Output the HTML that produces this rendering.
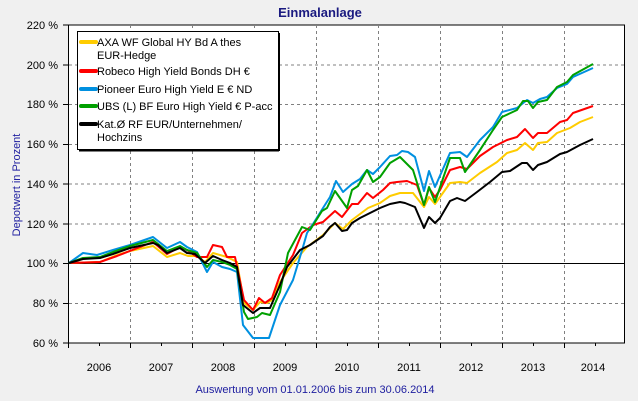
<!DOCTYPE html>
<html><head><meta charset="utf-8"><style>
body{margin:0;background:#f0f0f0;}
svg{display:block;font-family:"Liberation Sans",sans-serif;}
</style></head><body>
<svg width="638" height="401" viewBox="0 0 638 401" xmlns="http://www.w3.org/2000/svg">
<rect width="638" height="401" fill="#f0f0f0"/>
<text x="320" y="17" text-anchor="middle" font-size="13" font-weight="bold" fill="#1a1a80">Einmalanlage</text>
<rect x="68.5" y="25" width="556" height="318" fill="#fff" stroke="#000" stroke-width="1"/>
<g stroke="#808080" stroke-dasharray="3,3" stroke-width="1">
<line x1="69" x2="624" y1="65" y2="65"/><line x1="69" x2="624" y1="104.5" y2="104.5"/>
<line x1="69" x2="624" y1="144.5" y2="144.5"/><line x1="69" x2="624" y1="184" y2="184"/>
<line x1="69" x2="624" y1="224" y2="224"/><line x1="69" x2="624" y1="303.5" y2="303.5"/>
<line x1="130.5" x2="130.5" y1="25" y2="343"/><line x1="192.5" x2="192.5" y1="25" y2="343"/>
<line x1="254.5" x2="254.5" y1="25" y2="343"/><line x1="316.5" x2="316.5" y1="25" y2="343"/>
<line x1="378.5" x2="378.5" y1="25" y2="343"/><line x1="440.5" x2="440.5" y1="25" y2="343"/>
<line x1="502.5" x2="502.5" y1="25" y2="343"/><line x1="564.5" x2="564.5" y1="25" y2="343"/>
</g>
<line x1="69" x2="624" y1="263.5" y2="263.5" stroke="#000"/>
<g stroke="#000">
<line x1="63" x2="68" y1="25" y2="25"/><line x1="63" x2="68" y1="65" y2="65"/><line x1="63" x2="68" y1="104.5" y2="104.5"/><line x1="63" x2="68" y1="144.5" y2="144.5"/><line x1="63" x2="68" y1="184" y2="184"/><line x1="63" x2="68" y1="224" y2="224"/><line x1="63" x2="68" y1="263.5" y2="263.5"/><line x1="63" x2="68" y1="303.5" y2="303.5"/><line x1="63" x2="68" y1="343" y2="343"/>
<path d="M68.5 343v5M99.5 343v3M130.5 343v5M161.5 343v3M192.5 343v5M223.5 343v3M254.5 343v5M285.5 343v3M316.5 343v5M347.5 343v3M378.5 343v5M409.5 343v3M440.5 343v5M471.5 343v3M502.5 343v5M533.5 343v3M564.5 343v5M595.5 343v3"/>
</g>
<g font-size="11" fill="#000" text-anchor="end">
<text x="58" y="29">220 %</text><text x="58" y="69">200 %</text><text x="58" y="108">180 %</text><text x="58" y="148">160 %</text><text x="58" y="188">140 %</text><text x="58" y="228">120 %</text><text x="58" y="267">100 %</text><text x="58" y="307">80 %</text><text x="58" y="347">60 %</text>
</g>
<g font-size="11" fill="#000" text-anchor="middle">
<text x="99" y="371">2006</text><text x="161" y="371">2007</text><text x="223" y="371">2008</text><text x="285" y="371">2009</text><text x="347" y="371">2010</text><text x="409" y="371">2011</text><text x="471" y="371">2012</text><text x="533" y="371">2013</text><text x="593" y="371">2014</text>
</g>
<text transform="translate(20,185) rotate(-90)" font-size="11" fill="#2020a0" text-anchor="middle">Depotwert in Prozent</text>
<text x="315" y="393" font-size="11" fill="#2020a0" text-anchor="middle">Auswertung vom 01.01.2006 bis zum 30.06.2014</text>
<g fill="none" stroke-width="2" stroke-linejoin="round">
<polyline stroke="#ffcc00" points="69,263 100,262 117,255 130,251 153,246 167,257 180,253 188,256 197,256 205,262 213,253 227,257 237,262 244,303 253,310 260,302 267,303 272,300 280,282 293,263 307,247 323,235 335,223 343,229 352,220 368,208 380,203 390,196 400,193 413,193 424,207 429,197 435,204 450,183 460,182 467,183 480,173 497,162 507,153 517,150 525,143 533,150 538,143 547,142 557,133 570,128 580,122 593,117"/>
<polyline stroke="#ff0000" points="69,263 100,262 117,256 153,242 167,254 180,247 187,250 197,257 207,257 213,245 222,247 227,257 235,257 244,300 253,310 259,298 265,303 272,298 280,275 293,255 302,233 313,225 323,222 335,211 342,217 352,204 358,204 367,193 373,198 383,190 390,183 397,182 407,181 417,185 424,205 429,188 435,197 440,190 450,170 460,167 467,169 480,156 493,147 507,140 517,137 525,129 533,138 538,133 547,133 560,122 567,120 573,113 593,106"/>
<polyline stroke="#0090e0" points="69,263 83,253 97,255 113,250 130,245 153,237 167,248 180,242 187,247 197,252 207,272 213,262 222,267 230,269 237,272 243,325 253,338 269,338 280,305 293,280 303,247 307,233 313,224 323,208 330,197 336,181 343,192 352,184 360,179 367,170 373,174 380,167 390,156 397,155 402,151 408,152 415,157 424,191 429,171 435,187 450,153 460,152 467,157 480,140 493,127 502,112 517,108 527,100 533,103 540,99 547,97 557,88 567,84 573,77 593,68"/>
<polyline stroke="#00a000" points="69,263 83,258 100,257 113,252 130,246 153,240 167,251 180,246 187,250 197,253 207,267 213,260 222,262 230,265 237,269 244,312 248,319 257,317 262,313 270,315 280,292 288,253 302,227 310,230 322,211 327,208 335,191 347,208 352,190 358,186 367,170 373,182 380,177 390,163 400,157 413,170 424,205 429,187 435,202 450,158 460,158 465,172 480,150 493,130 502,117 517,110 523,101 528,101 533,108 538,102 547,100 557,87 567,82 573,75 593,64"/>
<polyline stroke="#000" points="69,263 83,259 100,258 113,254 130,248 153,243 158,245 167,253 180,248 187,253 195,254 205,263 213,256 222,260 230,263 237,267 243,305 253,313 260,308 270,308 280,285 287,267 300,250 310,245 323,236 330,227 335,223 342,231 347,230 352,223 360,218 370,213 380,208 390,204 400,202 405,203 415,207 424,228 429,217 435,223 440,218 450,201 457,198 465,201 477,192 490,182 502,172 510,171 522,163 527,163 533,170 538,165 547,162 560,154 567,152 580,145 593,139"/>
</g>
<rect x="77.5" y="31.5" width="201" height="118" fill="#fff" stroke="#000"/>
<line x1="279" x2="279" y1="33" y2="151" stroke="#000" stroke-width="2"/>
<line x1="79" x2="279" y1="150.5" y2="150.5" stroke="#000" stroke-width="2"/>
<g stroke-width="4" stroke-linecap="round">
<line x1="81" x2="96" y1="42" y2="42" stroke="#ffcc00"/>
<line x1="81" x2="96" y1="71" y2="71" stroke="#ff0000"/>
<line x1="81" x2="96" y1="89" y2="89" stroke="#0090e0"/>
<line x1="81" x2="96" y1="106" y2="106" stroke="#00a000"/>
<line x1="81" x2="96" y1="124" y2="124" stroke="#000"/>
</g>
<g font-size="11" fill="#000">
<text x="97" y="46">AXA WF Global HY Bd A thes</text>
<text x="97" y="59">EUR-Hedge</text>
<text x="97" y="75">Robeco High Yield Bonds DH €</text>
<text x="97" y="93">Pioneer Euro High Yield E € ND</text>
<text x="97" y="110">UBS (L) BF Euro High Yield € P-acc</text>
<text x="97" y="128">Kat.Ø RF EUR/Unternehmen/</text>
<text x="97" y="141">Hochzins</text>
</g>
</svg>
</body></html>
